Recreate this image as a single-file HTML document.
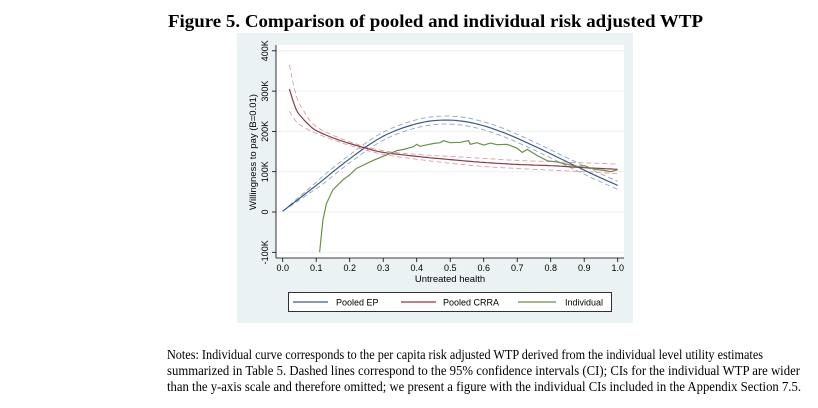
<!DOCTYPE html>
<html><head><meta charset="utf-8"><style>
html,body{margin:0;padding:0;background:#fff;}
svg{display:block;}
</style></head><body>
<svg width="818" height="408" xmlns="http://www.w3.org/2000/svg">
<text x="168" y="27" font-family="Liberation Serif, serif" font-weight="bold" font-size="18" textLength="535" lengthAdjust="spacingAndGlyphs">Figure 5. Comparison of pooled and individual risk adjusted WTP</text>
<rect x="237" y="33" width="396" height="290" fill="#eaf2f3"/>
<rect x="276" y="45" width="348" height="213" fill="#fff"/>
<g id="grid" stroke="#eaf2f3" stroke-width="1"></g>
<g id="axes" stroke="#000" stroke-width="0.8" fill="none"></g>
<g id="series"></g>
<g font-family="Liberation Sans, sans-serif" font-size="9" fill="#000" id="labels"></g>
<text x="450" y="282" text-anchor="middle" font-family="Liberation Sans, sans-serif" font-size="9.5">Untreated health</text>
<text transform="translate(256,152) rotate(-90)" text-anchor="middle" font-family="Liberation Sans, sans-serif" font-size="9.5">Willingness to pay (B=0.01)</text>
<rect x="288.5" y="292.5" width="323" height="19" fill="#fff" stroke="#000" stroke-width="0.8"/>
<line x1="293" y1="302" x2="328" y2="302" stroke="#3d5a8a" stroke-width="1.2"/>
<text x="336" y="305.5" font-family="Liberation Sans, sans-serif" font-size="9">Pooled EP</text>
<line x1="401" y1="302" x2="436" y2="302" stroke="#8c3a4a" stroke-width="1.2"/>
<text x="443" y="305.5" font-family="Liberation Sans, sans-serif" font-size="9">Pooled CRRA</text>
<line x1="518" y1="302" x2="556" y2="302" stroke="#6f8f4a" stroke-width="1.2"/>
<text x="565" y="305.5" font-family="Liberation Sans, sans-serif" font-size="9">Individual</text>
<g font-family="Liberation Serif, serif" font-size="13.5">
<text x="167" y="359" textLength="596" lengthAdjust="spacingAndGlyphs">Notes: Individual curve corresponds to the per capita risk adjusted WTP derived from the individual level utility estimates</text>
<text x="167" y="375" textLength="633" lengthAdjust="spacingAndGlyphs">summarized in Table 5.  Dashed lines correspond to the 95% confidence intervals (CI); CIs for the individual WTP are wider</text>
<text x="167" y="391" textLength="634" lengthAdjust="spacingAndGlyphs">than the y-axis scale and therefore omitted; we present a figure with the individual CIs included in the Appendix Section 7.5.</text>
</g>
</svg>
<script>
const NS="http://www.w3.org/2000/svg";
const X=v=>282.7+v*335, Y=k=>212-k*0.403;
function el(p,t,a){const e=document.createElementNS(NS,t);for(const k in a)e.setAttribute(k,a[k]);document.getElementById(p).appendChild(e);return e;}
[-100,0,100,200,300,400].forEach(k=>{el("grid","line",{x1:276,x2:624,y1:Y(k),y2:Y(k)});
 el("axes","line",{x1:272,x2:276,y1:Y(k),y2:Y(k)});
 const t=el("labels","text",{transform:`translate(268,${Y(k)}) rotate(-90)`,"text-anchor":"middle"});t.textContent=k==0?"0":k+"K";});
el("axes","line",{x1:276,x2:276,y1:45,y2:258});
el("axes","line",{x1:276,x2:624,y1:258,y2:258});
for(let i=0;i<=10;i++){const v=i/10;el("axes","line",{x1:X(v),x2:X(v),y1:258,y2:262});
 const t=el("labels","text",{x:X(v),y:271,"text-anchor":"middle"});t.textContent=v.toFixed(1);}
// Catmull-Rom smooth path through points
function smooth(pts,f){let d="";const n=pts.length;
 for(let i=0;i<n-1;i++){const p0=pts[Math.max(i-1,0)],p1=pts[i],p2=pts[i+1],p3=pts[Math.min(i+2,n-1)];
  for(let s=0;s<=10;s++){if(i>0&&s==0)continue;const t=s/10,t2=t*t,t3=t2*t;
   const cr=(a,b,c,e)=>0.5*((2*b)+(-a+c)*t+(2*a-5*b+4*c-e)*t2+(-a+3*b-3*c+e)*t3);
   const x=cr(p0[0],p1[0],p2[0],p3[0]),y=f(cr(p0[1],p1[1],p2[1],p3[1]),x);
   d+=(d?"L":"M")+X(x).toFixed(1)+","+Y(y).toFixed(1);}}
 return d;}
const EP=[[0,2],[0.1,66],[0.2,132],[0.3,188],[0.4,219],[0.48,228],[0.56,222],[0.65,200],[0.75,164],[0.85,124],[0.93,92],[1.0,66]];
const CR=[[0.02,305],[0.04,255],[0.06,232],[0.08,215],[0.1,202],[0.15,184],[0.2,170],[0.25,158],[0.3,148],[0.4,138],[0.5,130],[0.6,123],[0.7,118],[0.8,115],[0.9,110],[1.0,106]];
const CRU=[[0.02,365],[0.04,290],[0.06,255],[0.1,212],[0.2,174],[0.3,152],[0.4,143],[0.5,138],[0.6,133],[0.7,128],[0.8,125],[0.9,122],[1.0,119]];
const CRL=[[0.02,250],[0.04,225],[0.06,212],[0.1,195],[0.2,165],[0.3,143],[0.4,131],[0.5,121],[0.6,113],[0.7,108],[0.8,104],[0.9,100],[1.0,95]];
const IND=[[0.11,-100],[0.12,-20],[0.13,20],[0.15,55],[0.18,80],[0.2,92],[0.22,108],[0.27,128],[0.32,145],[0.34,152],[0.36,155],[0.39,162],[0.4,168],[0.41,163],[0.45,170],[0.47,172],[0.48,177],[0.5,172],[0.53,173],[0.555,177],[0.56,168],[0.58,172],[0.6,166],[0.62,171],[0.64,167],[0.67,168],[0.7,158],[0.715,148],[0.73,155],[0.76,140],[0.79,127],[0.82,124],[0.85,118],[0.88,113],[0.9,115],[0.93,106],[0.96,103],[0.98,100],[1.0,105]];
const s=document.getElementById("series");
function P(d,c,w,dash){const e=document.createElementNS(NS,"path");e.setAttribute("d",d);e.setAttribute("fill","none");e.setAttribute("stroke",c);e.setAttribute("stroke-width",w);if(dash)e.setAttribute("stroke-dasharray",dash);s.appendChild(e);}
P(smooth(EP,(y,x)=>y+Math.min(x*80,10)),"#8fa6c8",0.9,"5,3");
P(smooth(EP,(y,x)=>y-Math.min(x*80,10)),"#8fa6c8",0.9,"5,3");
P(smooth(CRU,y=>y),"#d9a0a8",0.9,"5,3");
P(smooth(CRL,y=>y),"#d9a0a8",0.9,"5,3");
P(smooth(EP,y=>y),"#3d5a8a",1.2);
P(smooth(CR,y=>y),"#8c3a4a",1.2);
let d="";IND.forEach((p,i)=>{d+=(i?"L":"M")+X(p[0]).toFixed(1)+","+Y(p[1]).toFixed(1);});
P(d,"#6f8f4a",1.2);
</script>
</body></html>
